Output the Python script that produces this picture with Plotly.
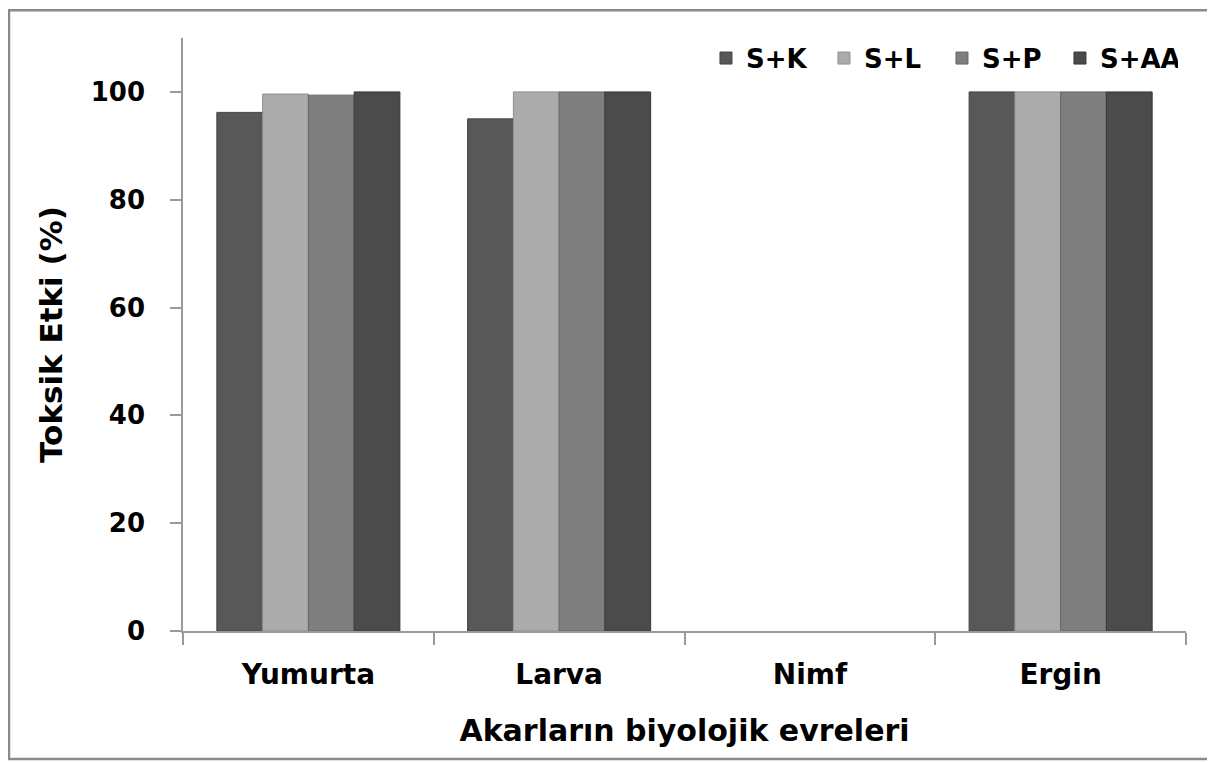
import plotly.graph_objects as go

categories = ["Yumurta", "Larva", "Nimf", "Ergin"]
series_names = ["S+K", "S+L", "S+P", "S+AA"]
s_k = [96.2, 95.0, None, 100]
s_l = [99.6, 100, None, 100]
s_p = [99.4, 100, None, 100]
s_aa = [100, 100, None, 100]
y_ticks = [0, 20, 40, 60, 80, 100]

colors = ["#585858", "#ababab", "#7e7e7e", "#4b4b4b"]
line_colors = ["#444444", "#8f8f8f", "#666666", "#383838"]

fig = go.Figure()
for name, vals, c, lc in zip(series_names, [s_k, s_l, s_p, s_aa], colors, line_colors):
    fig.add_trace(go.Bar(
        x=categories, y=vals, name=name,
        marker=dict(color=c, line=dict(color=lc, width=1)),
    ))

FONT = "DejaVu Sans"
fig.update_layout(
    width=1207, height=754,
    margin=dict(l=175, r=29, t=30, b=131),
    paper_bgcolor="white", plot_bgcolor="white",
    barmode="group", bargap=0.27, bargroupgap=0,
    font=dict(family=FONT, color="black"),
    showlegend=True,
    legend=dict(
        orientation="h", x=0.992, xanchor="right", y=0.966, yanchor="middle",
        font=dict(family=FONT, size=26, color="black", weight="bold"),
        bgcolor="rgba(0,0,0,0)", traceorder="normal",
        entrywidth=73, entrywidthmode="pixels",
    ),
    xaxis=dict(
        showline=True, linecolor="#9a9a9a", linewidth=1.5,
        ticks="outside", tickson="boundaries", ticklen=12, tickcolor="#9a9a9a", tickwidth=1.5,
        tickfont=dict(family=FONT, size=28, color="black", weight="bold"),
        ticklabelstandoff=18,
        showgrid=False,
        title=dict(text="Akarların biyolojik evreleri", standoff=30,
                   font=dict(family=FONT, size=30, color="black", weight="bold")),
    ),
    yaxis=dict(
        range=[0, 110], tickvals=y_ticks,
        showline=True, linecolor="#9a9a9a", linewidth=1.5,
        ticks="outside", ticklen=11, tickcolor="#9a9a9a", tickwidth=1.5,
        tickfont=dict(family=FONT, size=26, color="black", weight="bold"),
        ticklabelstandoff=20,
        showgrid=False, zeroline=False,
        title=dict(text="Toksik Etki (%)", standoff=19,
                   font=dict(family=FONT, size=31, color="black", weight="bold")),
    ),
    shapes=[dict(type="rect", xref="paper", yref="paper",
                 x0=-0.1735, x1=1.025, y0=-0.216, y1=1.047,
                 line=dict(color="#8a8a8a", width=2.5), layer="below")],
)

fig.write_html("out.html")
